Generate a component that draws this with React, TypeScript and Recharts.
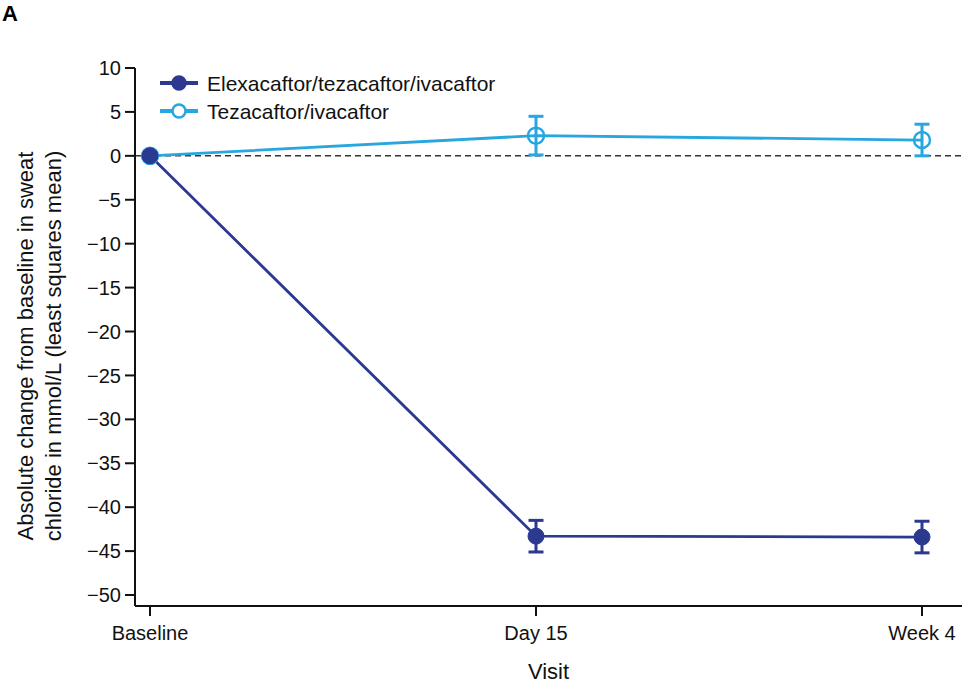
import React from 'react';
import { LineChart, Line, XAxis, YAxis, ReferenceLine, ErrorBar } from 'recharts';

const visits = ['Baseline', 'Day 15', 'Week 4'];
const etiMean = [0, -43.3, -43.4];
const etiErr = [[0, 0], [1.8, 1.8], [1.8, 1.8]];
const tiMean = [0, 2.3, 1.8];
const tiErr = [[0, 0], [2.2, 2.2], [1.8, 1.8]];
const yTicks = [10, 5, 0, -5, -10, -15, -20, -25, -30, -35, -40, -45, -50];
const seriesNames = ['Elexacaftor/tezacaftor/ivacaftor', 'Tezacaftor/ivacaftor'];

const NAVY = '#2B3990';
const CYAN = '#27A6DF';
const FONT = '"Liberation Sans", Arial, sans-serif';

const data = visits.map((v, i) => ({
  visit: v,
  eti: etiMean[i],
  etiErr: etiErr[i],
  ti: tiMean[i],
  tiErr: tiErr[i],
}));

// legend drawn as an overlay so it does not push the plot area down
const LegendBox = () => (
  <svg width={380} height={60} style={{ position: 'absolute', left: 158, top: 68, zIndex: 2 }}>
    {[NAVY, CYAN].map((c, i) => (
      <g key={i} transform={`translate(0, ${15 + i * 28})`}>
        <line x1={2} y1={0} x2={40} y2={0} stroke={c} strokeWidth={4} />
        <circle cx={21} cy={0} r={6.5} fill={i === 0 ? c : '#fff'} stroke={c} strokeWidth={2.5} />
        <text x={49} y={7.5} fontSize={21} fontFamily={FONT} fill="#111">{seriesNames[i]}</text>
      </g>
    ))}
  </svg>
);

const fmtY = (v: number) => (v < 0 ? '\u2212' + Math.abs(v) : String(v));

export default function App() {
  return (
    <div style={{ position: 'relative', width: 970, height: 687, background: '#fff', fontFamily: FONT }}>
      <style>{'body { margin: 0; }'}</style>
      <LineChart width={970} height={687} data={data} margin={{ top: 68, right: 8, left: 0, bottom: 0 }}>
        <XAxis
          dataKey="visit"
          height={81}
          padding={{ left: 15, right: 40 }}
          axisLine={{ stroke: '#111', strokeWidth: 2 }}
          tickLine={{ stroke: '#111', strokeWidth: 2 }}
          tickSize={10}
          tickMargin={10}
          tick={{ fill: '#111', fontSize: 20, fontFamily: FONT }}
          label={{ value: 'Visit', position: 'insideBottom', offset: 8, fill: '#111', fontSize: 22, fontFamily: FONT }}
        />
        <YAxis
          width={135}
          domain={[-51.25, 10]}
          ticks={yTicks}
          allowDataOverflow
          interval={0}
          tickFormatter={fmtY}
          axisLine={{ stroke: '#111', strokeWidth: 2 }}
          tickLine={{ stroke: '#111', strokeWidth: 2 }}
          tickSize={10}
          tickMargin={4}
          tick={{ fill: '#111', fontSize: 20, fontFamily: FONT }}
        />
        <ReferenceLine y={0} stroke="#333" strokeDasharray="6 4" strokeWidth={1.5} />
        <Line
          dataKey="ti"
          name={seriesNames[1]}
          stroke={CYAN}
          strokeWidth={2.8}
          dot={{ r: 8, fill: 'none', stroke: CYAN, strokeWidth: 2.5 }}
          isAnimationActive={false}
        >
          <ErrorBar dataKey="tiErr" direction="y" width={7.5} stroke={CYAN} strokeWidth={3} />
        </Line>
        <Line
          dataKey="eti"
          name={seriesNames[0]}
          stroke={NAVY}
          strokeWidth={2.8}
          dot={{ r: 8, fill: NAVY, stroke: NAVY, strokeWidth: 1 }}
          isAnimationActive={false}
        >
          <ErrorBar dataKey="etiErr" direction="y" width={7.5} stroke={NAVY} strokeWidth={3} />
        </Line>
      </LineChart>
      <LegendBox />
      <svg style={{ position: 'absolute', left: 0, top: 0, zIndex: 2 }} width={70} height={687}>
        <text x={2} y={21} fontFamily={FONT} fontSize={22} fontWeight="bold" fill="#000">A</text>
        <g transform="translate(33,346) rotate(-90)">
          <text textAnchor="middle" fontFamily={FONT} fontSize={22} fill="#111">Absolute change from baseline in sweat</text>
        </g>
        <g transform="translate(61,346) rotate(-90)">
          <text textAnchor="middle" fontFamily={FONT} fontSize={22} fill="#111">chloride in mmol/L (least squares mean)</text>
        </g>
      </svg>
    </div>
  );
}
